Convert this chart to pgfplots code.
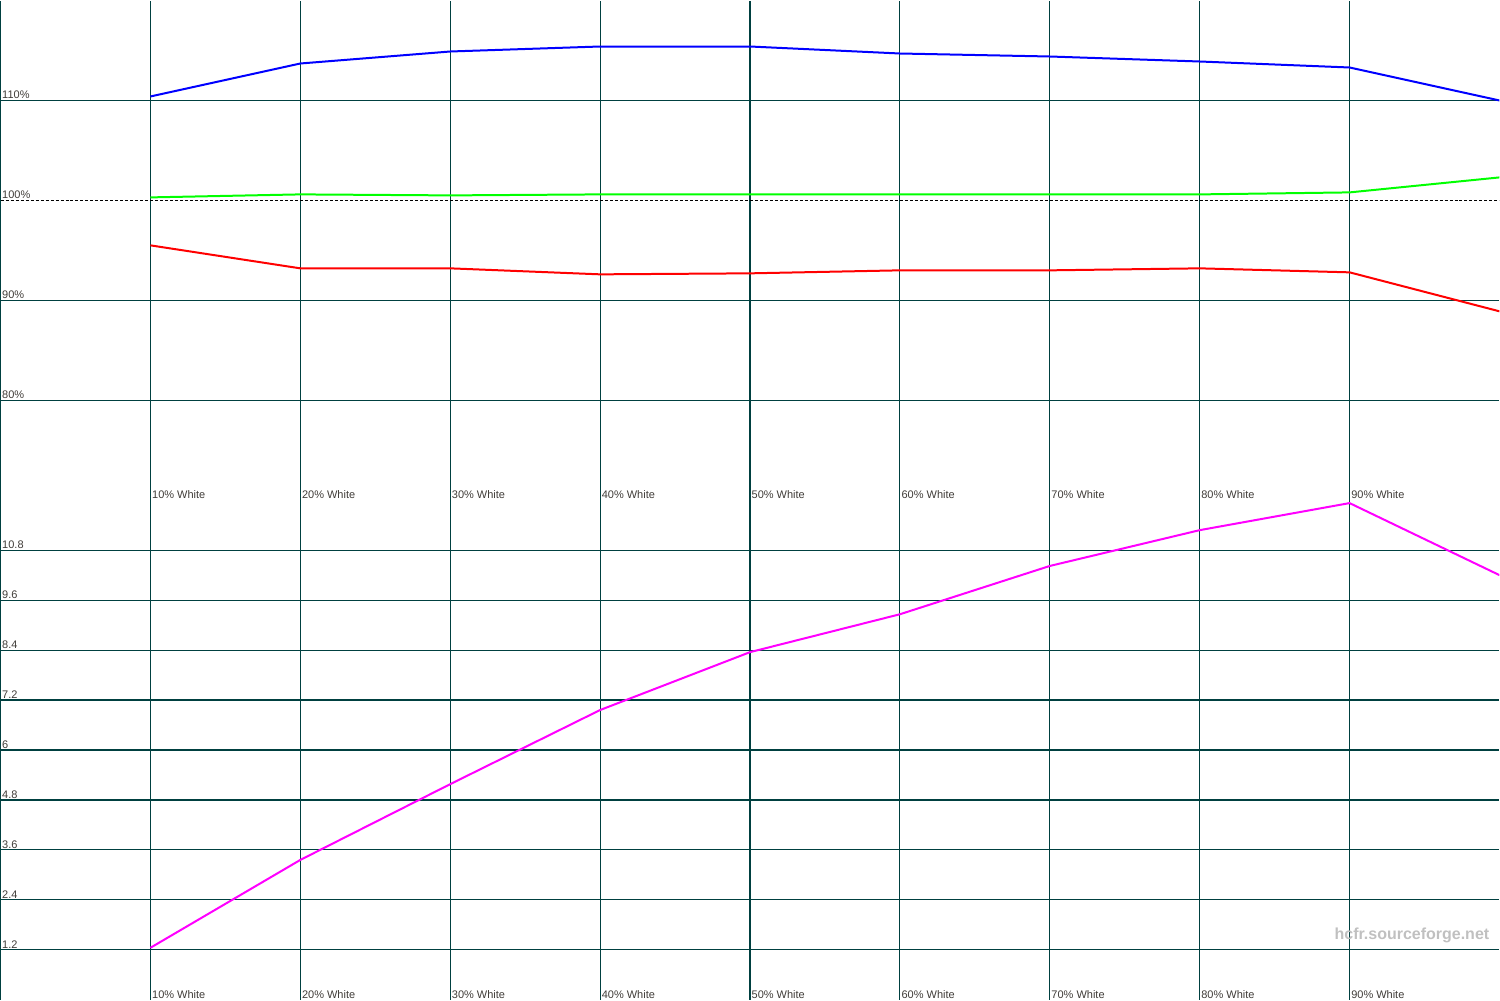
\documentclass[border=0pt]{standalone}
\usepackage{fontspec}
\setmainfont{Liberation Sans}
\usepackage{pgfplots}
\pgfplotsset{compat=1.18}
\definecolor{gridc}{RGB}{0,64,64}
\definecolor{txt}{RGB}{64,60,56}
\definecolor{wm}{RGB}{192,192,192}
\definecolor{pblue}{RGB}{0,0,255}
\definecolor{pgreen}{RGB}{0,255,0}
\definecolor{pred}{RGB}{255,0,0}
\definecolor{pmag}{RGB}{255,0,255}
\pgfplotsset{
  panel/.style={
    scale only axis, width=1500pt, height=500pt,
    xmin=0, xmax=10,
    axis line style={draw=none},
    major tick length=0pt,
    grid=major,
    major grid style={draw=gridc, line width=1.1pt},
    xtick={0,1,2,3,4,5,6,7,8,9},
    xticklabels={,10\% White,20\% White,30\% White,40\% White,50\% White,60\% White,70\% White,80\% White,90\% White},
    xticklabel style={anchor=south west, inner sep=1.5pt, font=\fontsize{11}{13}\selectfont, text=txt},
    yticklabel style={anchor=south west, inner sep=1.5pt, font=\fontsize{11}{13}\selectfont, text=txt},
    every axis plot/.append style={line width=2pt, mark=none},
    clip=true,
  }
}
\begin{document}
\begin{tikzpicture}
% top panel
\begin{axis}[panel, at={(0,500pt)}, anchor=south west,
  ymin=70, ymax=120,
  ytick={80,90,110}, yticklabels={80\%,90\%,110\%},
  extra y ticks={100}, extra y tick labels={100\%},
  extra y tick style={major grid style={draw=black, line width=0.8pt, dash pattern=on 3pt off 2pt}},
]
\addplot[pblue] coordinates {(1,110.4) (2,113.7) (3,114.9) (4,115.4) (5,115.4) (6,114.7) (7,114.4) (8,113.9) (9,113.3) (10,110.0)};
\addplot[pgreen] coordinates {(1,100.3) (2,100.6) (3,100.5) (4,100.6) (5,100.6) (6,100.6) (7,100.6) (8,100.6) (9,100.8) (10,102.3)};
\addplot[pred] coordinates {(1,95.5) (2,93.2) (3,93.2) (4,92.6) (5,92.7) (6,93.0) (7,93.0) (8,93.2) (9,92.8) (10,88.9)};
\end{axis}
% bottom panel
\begin{axis}[panel, at={(0,0)}, anchor=south west,
  ymin=0, ymax=12,
  ytick={1.2,2.4,3.6,4.8,6,7.2,8.4,9.6,10.8},
  yticklabels={1.2,2.4,3.6,4.8,6,7.2,8.4,9.6,10.8},
]
\addplot[pmag] coordinates {(1,1.25) (2,3.36) (3,5.18) (4,6.96) (5,8.35) (6,9.26) (7,10.42) (8,11.28) (9,11.93) (10,10.2)};
\node[anchor=base east, inner sep=0pt, text=wm, font=\fontsize{16}{18}\selectfont\bfseries] at (rel axis cs:0.9933,0.12) {hcfr.sourceforge.net};
\end{axis}
\end{tikzpicture}
\end{document}
